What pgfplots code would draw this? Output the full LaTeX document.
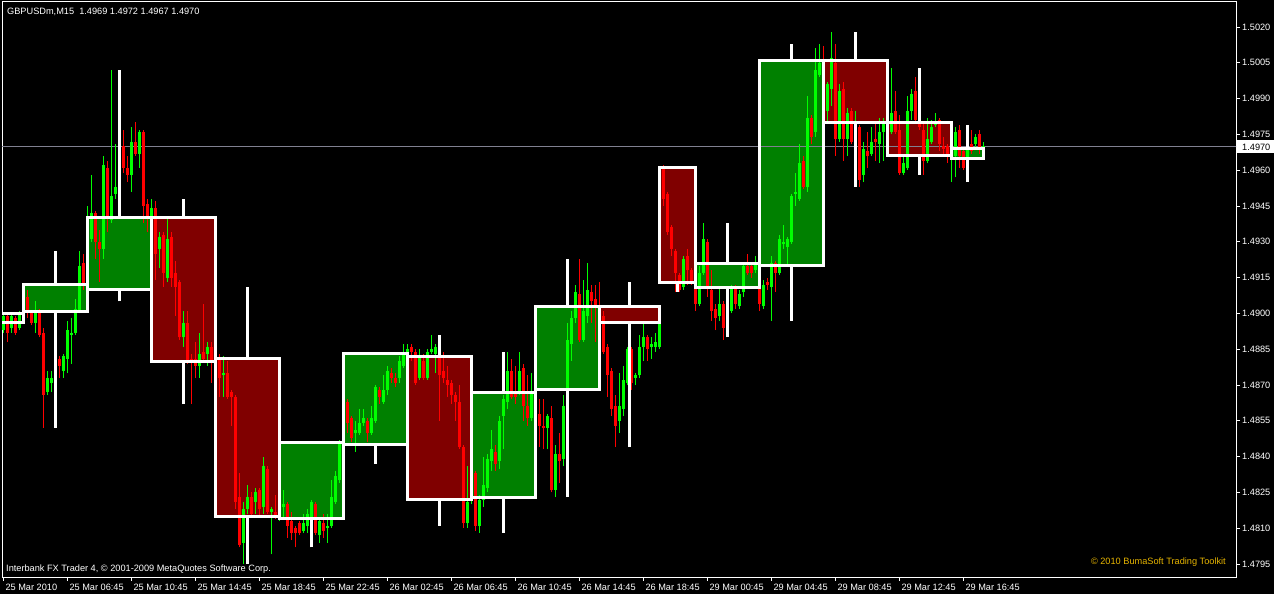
\documentclass[border=0pt]{standalone}
\usepackage{fontspec}
\setmainfont{Liberation Sans}
\usepackage{pgfplots}
\usepackage{pgfplotstable}
\pgfplotsset{compat=1.18}
\definecolor{bullc}{RGB}{0,255,0}
\definecolor{bearc}{RGB}{255,0,0}
\definecolor{boxg}{RGB}{0,128,0}
\definecolor{boxr}{RGB}{128,0,0}
\definecolor{pline}{RGB}{128,128,144}
\definecolor{goldc}{RGB}{230,180,0}
\newcommand\tf{\fontsize{9.2bp}{11bp}\selectfont}
% a b O C colour
\newcommand\boxfill[5]{\addplot[fill=#5, draw=none, forget plot] coordinates {(#1,#3) (#2,#3) (#2,#4) (#1,#4)};}
% a b centre bottom top high low
\newcommand\boxline[7]{%
  \addplot[white, line width=3bp, line cap=rect, forget plot] coordinates {(#1,#4) (#2,#4) (#2,#5) (#1,#5) (#1,#4)};
  \addplot[white, line width=2.7bp, forget plot] coordinates {(#3,#5) (#3,#6)};
  \addplot[white, line width=2.7bp, forget plot] coordinates {(#3,#7) (#3,#4)};
}
\pgfplotsset{candle/.style={only marks, mark=none, mark size=0pt, mark options={draw=none, fill=none}, forget plot,
  error bars/.cd, y dir=plus, y explicit, error mark=none}}

\pgfplotstableread{
k O H L C
0 1.4893 1.4900 1.4892 1.4899
2 1.4894 1.4900 1.4892 1.4899
4 1.4894 1.4901 1.4893 1.4900
5 1.4901 1.4910 1.4898 1.4907
8 1.4896 1.4905 1.4892 1.4900
11 1.4867 1.4876 1.4866 1.4873
12 1.4871 1.4876 1.4867 1.4873
13 1.4873 1.4882 1.4871 1.4881
15 1.4876 1.4883 1.4873 1.4882
16 1.4881 1.4897 1.4875 1.4893
17 1.4891 1.4898 1.4879 1.4892
18 1.4892 1.4906 1.4891 1.4902
19 1.4901 1.4926 1.4900 1.4920
21 1.4910 1.4945 1.4905 1.4931
22 1.4931 1.4958 1.4930 1.4942
25 1.4927 1.4966 1.4923 1.4962
27 1.4939 1.5002 1.4938 1.4949
28 1.4950 1.4971 1.4948 1.4953
29 1.4953 1.4971 1.4952 1.4970
32 1.4958 1.4978 1.4951 1.4972
34 1.4967 1.4977 1.4961 1.4976
37 1.4940 1.4948 1.4939 1.4944
39 1.4927 1.4934 1.4919 1.4932
41 1.4915 1.4941 1.4913 1.4931
45 1.4890 1.4901 1.4886 1.4896
49 1.4878 1.4892 1.4873 1.4883
51 1.4883 1.4888 1.4878 1.4886
53 1.4880 1.4883 1.4876 1.4881
55 1.4874 1.4882 1.4865 1.4875
60 1.4804 1.4821 1.4795 1.4818
61 1.4818 1.4828 1.4816 1.4823
63 1.4821 1.4827 1.4816 1.4825
65 1.4819 1.4840 1.4816 1.4836
67 1.4817 1.4819 1.4799 1.4818
69 1.4814 1.4822 1.4813 1.4820
70 1.4819 1.4826 1.4814 1.4820
75 1.4809 1.4816 1.4808 1.4812
76 1.4811 1.4818 1.4808 1.4816
77 1.4813 1.4822 1.4812 1.4821
79 1.4807 1.4814 1.4804 1.4813
81 1.4810 1.4816 1.4804 1.4811
82 1.4811 1.4830 1.4810 1.4823
83 1.4821 1.4834 1.4820 1.4832
84 1.4830 1.4847 1.4829 1.4846
85 1.4845 1.4864 1.4837 1.4863
88 1.4850 1.4855 1.4842 1.4851
89 1.4850 1.4860 1.4849 1.4854
90 1.4854 1.4860 1.4853 1.4856
92 1.4850 1.4861 1.4849 1.4856
93 1.4855 1.4870 1.4854 1.4869
95 1.4863 1.4874 1.4862 1.4868
96 1.4868 1.4878 1.4866 1.4876
99 1.4873 1.4882 1.4871 1.4880
100 1.4878 1.4887 1.4877 1.4883
101 1.4883 1.4887 1.4882 1.4885
104 1.4873 1.4885 1.4872 1.4882
106 1.4873 1.4885 1.4872 1.4884
107 1.4884 1.4891 1.4883 1.4885
108 1.4883 1.4887 1.4875 1.4886
116 1.4812 1.4836 1.4810 1.4821
117 1.4822 1.4834 1.4820 1.4833
119 1.4811 1.4824 1.4808 1.4822
120 1.4822 1.4840 1.4819 1.4828
121 1.4827 1.4841 1.4825 1.4839
122 1.4838 1.4851 1.4834 1.4843
124 1.4838 1.4857 1.4835 1.4855
125 1.4857 1.4866 1.4843 1.4864
126 1.4863 1.4884 1.4860 1.4876
129 1.4867 1.4884 1.4866 1.4876
132 1.4856 1.4875 1.4855 1.4867
136 1.4852 1.4858 1.4843 1.4857
138 1.4826 1.4845 1.4823 1.4841
140 1.4839 1.4866 1.4836 1.4861
141 1.4861 1.4896 1.4860 1.4889
142 1.4887 1.4901 1.4880 1.4898
143 1.4898 1.4912 1.4896 1.4909
145 1.4889 1.4914 1.4888 1.4901
146 1.4899 1.4921 1.4896 1.4910
154 1.4855 1.4875 1.4850 1.4861
155 1.4860 1.4878 1.4857 1.4872
156 1.4871 1.4886 1.4870 1.4885
158 1.4873 1.4875 1.4870 1.4874
159 1.4874 1.4891 1.4873 1.4886
160 1.4886 1.4896 1.4880 1.4890
162 1.4886 1.4890 1.4881 1.4887
163 1.4886 1.4892 1.4884 1.4888
164 1.4886 1.4897 1.4885 1.4896
170 1.4911 1.4924 1.4910 1.4923
174 1.4904 1.4920 1.4903 1.4917
175 1.4917 1.4938 1.4916 1.4931
179 1.4899 1.4911 1.4897 1.4904
181 1.4894 1.4906 1.4891 1.4901
182 1.4901 1.4912 1.4900 1.4911
184 1.4903 1.4910 1.4902 1.4908
185 1.4909 1.4921 1.4907 1.4920
188 1.4918 1.4924 1.4917 1.4921
190 1.4903 1.4914 1.4902 1.4912
192 1.4911 1.4924 1.4897 1.4921
194 1.4917 1.4933 1.4916 1.4931
195 1.4929 1.4937 1.4927 1.4930
196 1.4928 1.4932 1.4920 1.4931
197 1.4930 1.4950 1.4929 1.4949
198 1.4950 1.4959 1.4945 1.4951
199 1.4948 1.4971 1.4947 1.4963
201 1.4953 1.4991 1.4951 1.4982
203 1.4976 1.5011 1.4974 1.5002
204 1.5000 1.5013 1.4999 1.5005
206 1.4985 1.4997 1.4980 1.4996
207 1.4994 1.5018 1.4987 1.5007
209 1.4973 1.4996 1.4972 1.4993
211 1.4973 1.4986 1.4966 1.4984
213 1.4972 1.4985 1.4968 1.4978
215 1.4958 1.4972 1.4955 1.4969
217 1.4967 1.4978 1.4966 1.4972
219 1.4971 1.4982 1.4963 1.4976
220 1.4976 1.4982 1.4964 1.4980
222 1.4976 1.5003 1.4975 1.4984
225 1.4959 1.4966 1.4958 1.4963
226 1.4961 1.4991 1.4960 1.4985
227 1.4985 1.4994 1.4981 1.4992
231 1.4964 1.4982 1.4963 1.4973
232 1.4972 1.4981 1.4971 1.4978
233 1.4979 1.4984 1.4978 1.4980
237 1.4965 1.4969 1.4955 1.4966
238 1.4966 1.4978 1.4957 1.4976
241 1.4964 1.4972 1.4962 1.4970
243 1.4971 1.4975 1.4969 1.4974
245 1.4969 1.4972 1.4967 1.4970
}\bull

\pgfplotstableread{
k O H L C
1 1.4899 1.4900 1.4888 1.4892
3 1.4898 1.4899 1.4891 1.4892
6 1.4907 1.4910 1.4898 1.4901
7 1.4900 1.4901 1.4895 1.4896
9 1.4901 1.4902 1.4890 1.4891
10 1.4892 1.4894 1.4852 1.4866
14 1.4881 1.4882 1.4873 1.4878
20 1.4921 1.4925 1.4910 1.4912
23 1.4942 1.4943 1.4923 1.4930
24 1.4930 1.4935 1.4913 1.4927
26 1.4961 1.4964 1.4934 1.4940
30 1.4970 1.4977 1.4959 1.4961
31 1.4961 1.4966 1.4955 1.4958
33 1.4972 1.4980 1.4966 1.4967
35 1.4976 1.4977 1.4938 1.4945
36 1.4946 1.4948 1.4934 1.4940
38 1.4944 1.4947 1.4914 1.4925
40 1.4933 1.4934 1.4911 1.4917
42 1.4932 1.4934 1.4911 1.4915
43 1.4917 1.4922 1.4899 1.4911
44 1.4913 1.4914 1.4889 1.4890
46 1.4896 1.4901 1.4879 1.4880
47 1.4881 1.4883 1.4862 1.4880
48 1.4881 1.4888 1.4873 1.4878
50 1.4884 1.4904 1.4880 1.4881
52 1.4886 1.4888 1.4871 1.4880
54 1.4881 1.4883 1.4865 1.4873
56 1.4875 1.4880 1.4864 1.4865
57 1.4867 1.4868 1.4853 1.4865
58 1.4865 1.4866 1.4818 1.4821
59 1.4823 1.4833 1.4802 1.4803
62 1.4823 1.4825 1.4815 1.4816
64 1.4826 1.4827 1.4815 1.4818
66 1.4835 1.4836 1.4816 1.4817
68 1.4817 1.4824 1.4814 1.4815
71 1.4820 1.4821 1.4806 1.4811
72 1.4813 1.4817 1.4805 1.4808
73 1.4810 1.4811 1.4802 1.4808
74 1.4812 1.4813 1.4807 1.4808
78 1.4820 1.4821 1.4807 1.4808
80 1.4812 1.4816 1.4806 1.4809
86 1.4863 1.4864 1.4850 1.4854
87 1.4856 1.4857 1.4846 1.4848
91 1.4855 1.4856 1.4846 1.4850
94 1.4868 1.4869 1.4862 1.4865
97 1.4875 1.4877 1.4871 1.4873
98 1.4873 1.4875 1.4869 1.4871
102 1.4886 1.4887 1.4880 1.4884
103 1.4884 1.4885 1.4870 1.4871
105 1.4880 1.4883 1.4872 1.4873
109 1.4885 1.4886 1.4855 1.4874
110 1.4876 1.4884 1.4871 1.4873
111 1.4872 1.4878 1.4865 1.4870
112 1.4871 1.4872 1.4862 1.4866
113 1.4866 1.4867 1.4855 1.4863
114 1.4863 1.4870 1.4843 1.4844
115 1.4844 1.4845 1.4810 1.4812
118 1.4833 1.4834 1.4809 1.4811
123 1.4842 1.4845 1.4834 1.4837
127 1.4876 1.4881 1.4864 1.4865
128 1.4867 1.4878 1.4862 1.4865
130 1.4877 1.4879 1.4855 1.4861
131 1.4861 1.4874 1.4853 1.4856
133 1.4868 1.4869 1.4855 1.4858
134 1.4858 1.4864 1.4844 1.4853
135 1.4853 1.4864 1.4843 1.4852
137 1.4856 1.4861 1.4825 1.4826
139 1.4841 1.4850 1.4829 1.4838
144 1.4908 1.4923 1.4888 1.4889
147 1.4909 1.4912 1.4896 1.4905
148 1.4906 1.4912 1.4888 1.4903
149 1.4903 1.4913 1.4897 1.4899
150 1.4899 1.4901 1.4883 1.4884
151 1.4886 1.4887 1.4865 1.4874
152 1.4876 1.4877 1.4857 1.4860
153 1.4861 1.4866 1.4844 1.4853
157 1.4885 1.4886 1.4868 1.4871
161 1.4890 1.4891 1.4880 1.4885
165 1.4961 1.4962 1.4945 1.4948
166 1.4950 1.4951 1.4933 1.4934
167 1.4936 1.4937 1.4924 1.4927
168 1.4926 1.4927 1.4909 1.4917
169 1.4916 1.4917 1.4909 1.4910
171 1.4924 1.4927 1.4912 1.4918
172 1.4918 1.4919 1.4912 1.4913
173 1.4911 1.4912 1.4901 1.4904
176 1.4930 1.4931 1.4907 1.4911
177 1.4910 1.4918 1.4897 1.4901
178 1.4902 1.4904 1.4893 1.4898
180 1.4904 1.4905 1.4889 1.4894
183 1.4911 1.4912 1.4902 1.4904
186 1.4920 1.4925 1.4916 1.4917
187 1.4920 1.4921 1.4915 1.4917
189 1.4920 1.4921 1.4901 1.4904
191 1.4913 1.4915 1.4910 1.4912
193 1.4921 1.4922 1.4909 1.4917
200 1.4964 1.4966 1.4952 1.4953
202 1.4982 1.4983 1.4971 1.4974
205 1.5005 1.5012 1.4983 1.4985
208 1.5005 1.5013 1.4966 1.4973
210 1.4994 1.4997 1.4964 1.4973
212 1.4985 1.4986 1.4971 1.4972
214 1.4978 1.4979 1.4953 1.4956
216 1.4968 1.4976 1.4961 1.4966
218 1.4973 1.4980 1.4964 1.4972
221 1.4980 1.4982 1.4973 1.4976
223 1.4985 1.4993 1.4975 1.4976
224 1.4977 1.4983 1.4958 1.4959
228 1.4993 1.4999 1.4980 1.4981
229 1.4981 1.4983 1.4977 1.4978
230 1.4977 1.4980 1.4958 1.4964
234 1.4981 1.4982 1.4968 1.4971
235 1.4970 1.4974 1.4967 1.4969
236 1.4970 1.4971 1.4963 1.4966
239 1.4977 1.4979 1.4961 1.4966
240 1.4968 1.4969 1.4960 1.4961
242 1.4971 1.4977 1.4967 1.4968
244 1.4975 1.4977 1.4967 1.4969
}\bear

\begin{document}
\begin{tikzpicture}
\fill[black] (0,0) rectangle (1274bp,594bp);
\begin{axis}[
  at={(2bp,17bp)}, anchor=south west,
  scale only axis, width=1234bp, height=575bp,
  xmin=-0.325, xmax=308.175,
  ymin=1.478956, ymax=1.503048,
  clip mode=individual,
  axis line style={white, line width=1bp},
  xtick pos=left, ytick pos=right,
  tick align=outside, major tick length=4bp,
  tick style={white, line width=1bp},
  xtick={0,16,32,48,64,80,96,112,128,144,160,176,192,208,224,240},
  xticklabels={25 Mar 2010,25 Mar 06:45,25 Mar 10:45,25 Mar 14:45,25 Mar 18:45,25 Mar 22:45,26 Mar 02:45,26 Mar 06:45,26 Mar 10:45,26 Mar 14:45,26 Mar 18:45,29 Mar 00:45,29 Mar 04:45,29 Mar 08:45,29 Mar 12:45,29 Mar 16:45},
  ytick={1.4795,1.4810,1.4825,1.4840,1.4855,1.4870,1.4885,1.4900,1.4915,1.4930,1.4945,1.4960,1.4975,1.4990,1.5005,1.5020},
  yticklabels={1.4795,1.4810,1.4825,1.4840,1.4855,1.4870,1.4885,1.4900,1.4915,1.4930,1.4945,1.4960,1.4975,1.4990,1.5005,1.5020},
  yticklabel pos=right,
  tick label style={text=white, font=\tf, inner sep=0pt},
  xticklabel style={anchor=base west, xshift=2bp, yshift=-9.3bp},
  yticklabel style={anchor=west, xshift=2bp},
]
% 4-hour box bodies
\boxfill{-11}{5}{1.4896}{1.4900}{black}
\boxfill{5}{21}{1.4901}{1.4912}{boxg}
\boxfill{21}{37}{1.4910}{1.4940}{boxg}
\boxfill{37}{53}{1.4940}{1.4880}{boxr}
\boxfill{53}{69}{1.4881}{1.4815}{boxr}
\boxfill{69}{85}{1.4814}{1.4846}{boxg}
\boxfill{85}{101}{1.4845}{1.4883}{boxg}
\boxfill{101}{117}{1.4882}{1.4822}{boxr}
\boxfill{117}{133}{1.4823}{1.4867}{boxg}
\boxfill{133}{149}{1.4868}{1.4903}{boxg}
\boxfill{149}{164}{1.4903}{1.4896}{boxr}
\boxfill{164}{173}{1.4961}{1.4913}{boxr}
\boxfill{173}{189}{1.4911}{1.4921}{boxg}
\boxfill{189}{205}{1.4920}{1.5006}{boxg}
\boxfill{205}{221}{1.5006}{1.4980}{boxr}
\boxfill{221}{237}{1.4980}{1.4966}{boxr}
\boxfill{237}{245}{1.4965}{1.4969}{boxg}
% price line
\addplot[pline, line width=1bp, forget plot] coordinates {(-1,1.4970) (310,1.4970)};
% M15 candles: wicks
\addplot[candle, error bar style={draw=bullc, line width=1bp}] table[x=k, y=L, y error expr=\thisrow{H}-\thisrow{L}] {\bull};
\addplot[candle, error bar style={draw=bearc, line width=1bp}] table[x=k, y=L, y error expr=\thisrow{H}-\thisrow{L}] {\bear};
% bodies
\addplot[candle, error bar style={draw=bullc, line width=3bp}] table[x=k, y=O, y error expr=\thisrow{C}-\thisrow{O}] {\bull};
\addplot[candle, error bar style={draw=bearc, line width=3bp}] table[x=k, y=C, y error expr=\thisrow{O}-\thisrow{C}] {\bear};
% 4-hour box outlines and wicks: a b centre bottom top high low
\boxline{-11}{5}{-3}{1.4896}{1.4900}{1.4900}{1.4896}
\boxline{5}{21}{13}{1.4901}{1.4912}{1.4926}{1.4852}
\boxline{21}{37}{29}{1.4910}{1.4940}{1.5002}{1.4905}
\boxline{37}{53}{45}{1.4880}{1.4940}{1.4948}{1.4862}
\boxline{53}{69}{61}{1.4815}{1.4881}{1.4911}{1.4795}
\boxline{69}{85}{77}{1.4814}{1.4846}{1.4846}{1.4802}
\boxline{85}{101}{93}{1.4845}{1.4883}{1.4884}{1.4837}
\boxline{101}{117}{109}{1.4822}{1.4882}{1.4891}{1.4811}
\boxline{117}{133}{125}{1.4823}{1.4867}{1.4884}{1.4808}
\boxline{133}{149}{141}{1.4868}{1.4903}{1.4923}{1.4823}
\boxline{149}{164}{156.5}{1.4896}{1.4903}{1.4913}{1.4844}
\boxline{164}{173}{168.5}{1.4913}{1.4961}{1.4961}{1.4909}
\boxline{173}{189}{181}{1.4911}{1.4921}{1.4938}{1.4890}
\boxline{189}{205}{197}{1.4920}{1.5006}{1.5013}{1.4897}
\boxline{205}{221}{213}{1.4980}{1.5006}{1.5018}{1.4953}
\boxline{221}{237}{229}{1.4966}{1.4980}{1.5003}{1.4958}
\boxline{237}{245}{241}{1.4965}{1.4969}{1.4979}{1.4955}
\end{axis}
% current price tag and texts
\fill[white] (1237bp,441bp) rectangle (1274bp,454bp);
\node[anchor=base west, inner sep=0pt, text=black, font=\tf] at (1242bp,443.7bp) {1.4970};
\node[anchor=base west, inner sep=0pt, text=white, font=\tf] at (7bp,579.7bp) {GBPUSDm,M15\ \ 1.4969 1.4972 1.4967 1.4970};
\node[anchor=base west, inner sep=0pt, text=white, font=\tf] at (6bp,22.7bp) {Interbank FX Trader 4, © 2001-2009 MetaQuotes Software Corp.};
\node[anchor=base east, inner sep=0pt, text=goldc, font=\tf] at (1226bp,29.7bp) {© 2010 BumaSoft Trading Toolkit};
\pgfresetboundingbox
\path[use as bounding box] (0,0) rectangle (1274bp,594bp);
\end{tikzpicture}
\end{document}
